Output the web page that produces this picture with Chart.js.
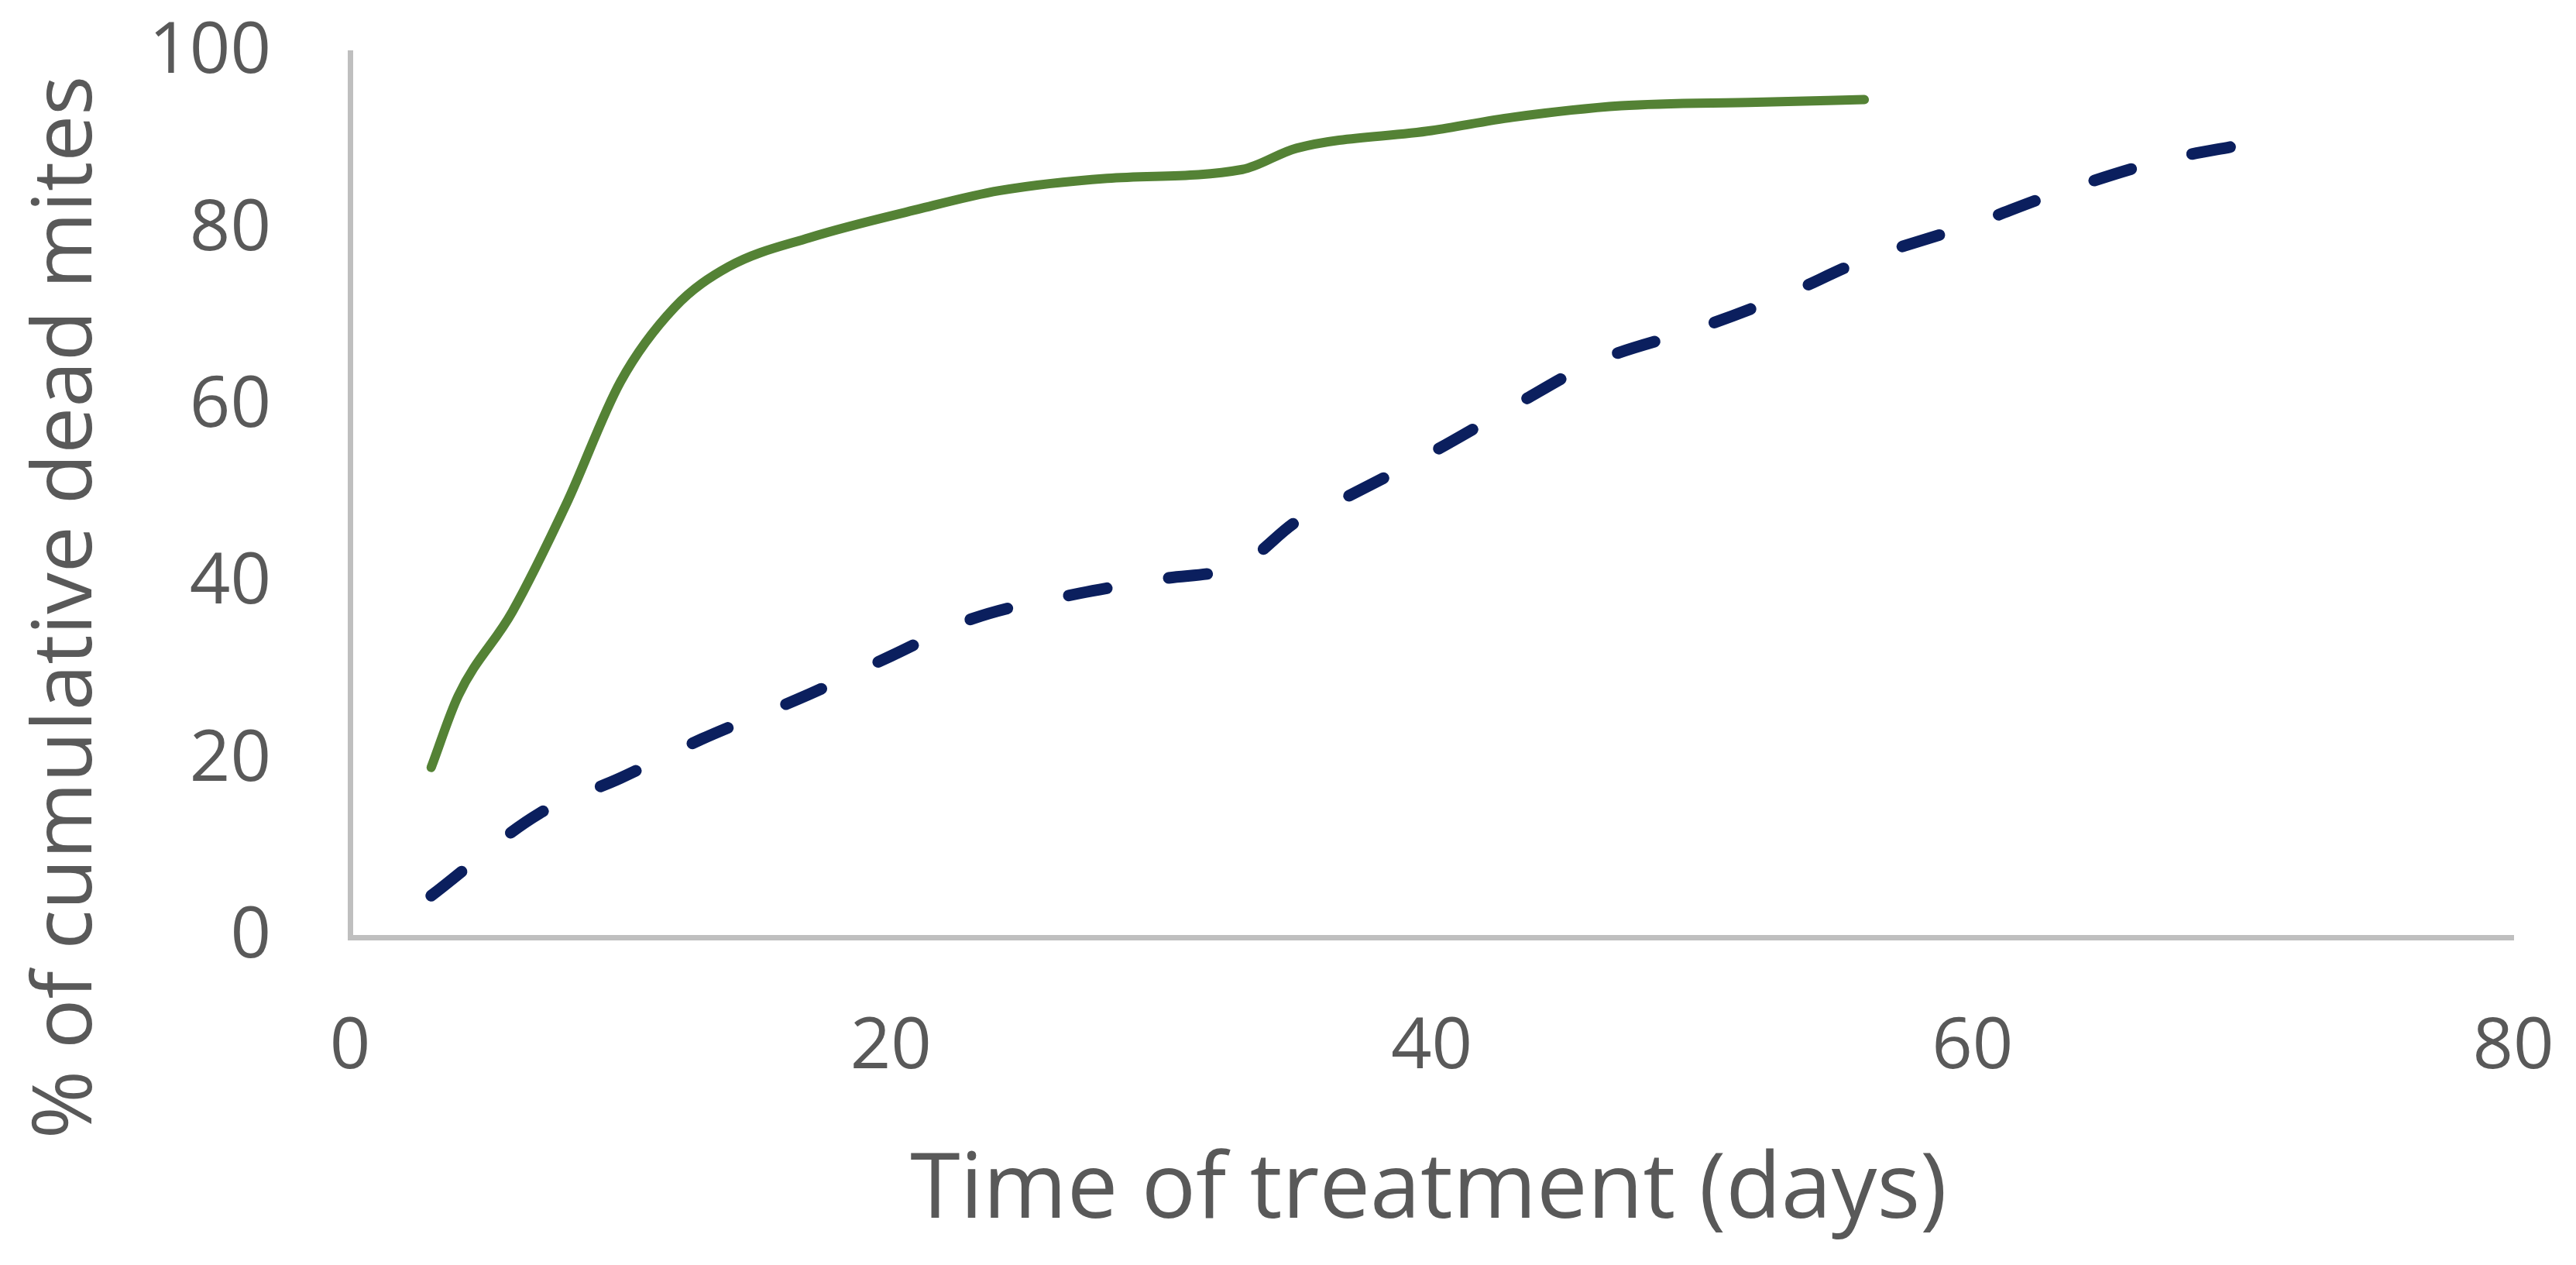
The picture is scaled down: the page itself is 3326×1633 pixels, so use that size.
<!DOCTYPE html>
<html>
<head>
<meta charset="utf-8">
<script src="https://cdn.jsdelivr.net/npm/chart.js@4.4.0/dist/chart.umd.min.js"></script>
<style>
  body { margin: 0; background: #fff; }
  #wrap { width: 3326px; height: 1633px; }
</style>
</head>
<body>
<div id="wrap"><canvas id="mitesChart" width="3326" height="1633"></canvas></div>
<script>
// days of treatment + % cumulative dead mites
const solidDays = [3, 4, 6, 8, 10, 12, 14, 17, 21, 24, 28, 33, 35, 40, 43, 47, 52, 56]
const solidDead = [19.2, 27.3, 36.8, 49, 62.8, 71.2, 75.8, 79.1, 82.3, 84.4, 85.8, 86.8, 89.2, 91.2, 92.7, 94, 94.4, 94.7]

const dashedDays = [3, 7, 10, 13, 17, 20, 23, 27, 30, 33, 35, 37, 40, 43, 46, 50, 53, 56, 60, 63, 67, 70]
const dashedDead = [4.7, 14, 18, 22.4, 27.5, 31.8, 36, 38.9, 40.5, 42.2, 47, 50, 54.8, 60, 65, 69, 72.5, 76.6, 80.6, 84, 87.8, 89.6]

const xTicks = [0, 20, 40, 60, 80]
const yTicks = [0, 20, 40, 60, 80, 100]

const xTitle = 'Time of treatment (days)'
const yTitle = '% of cumulative dead mites'

const textColor = '#595959'
const axisColor = '#BFBFBF'

const toPoints = (xs, ys) => xs.map((x, i) => ({ x: x, y: ys[i] }))

// axis titles are placed by hand, Excel doesn't centre the y one on the plot
const axisTitles = {
  id: 'axisTitles',
  afterDraw(chart) {
    const { ctx, chartArea } = chart
    ctx.save()
    ctx.fillStyle = textColor
    ctx.textAlign = 'center'
    ctx.textBaseline = 'alphabetic'
    ctx.font = '117px "Open Sans"'
    ctx.fillText(xTitle, (chartArea.left + chartArea.right) / 2 - 4, 1572)
    ctx.translate(118, 784)
    ctx.rotate(-Math.PI / 2)
    ctx.font = '107px "Open Sans"'
    ctx.fillText(yTitle, 0, 0)
    ctx.restore()
  }
}

// tick padding would otherwise be added to the plot margins
function noEdgePadding(scale) {
  scale.paddingTop = 0
  scale.paddingBottom = 0
  scale.paddingLeft = 0
  scale.paddingRight = 0
}

const ctx = document.getElementById('mitesChart').getContext('2d')
new Chart(ctx, {
  type: 'line',
  data: {
    datasets: [
      {
        label: 'solid',
        data: toPoints(solidDays, solidDead),
        borderColor: '#548235',
        borderWidth: 12,
        borderCapStyle: 'round',
        cubicInterpolationMode: 'monotone',
        pointRadius: 0,
        fill: false
      },
      {
        label: 'dashed',
        data: toPoints(dashedDays, dashedDead),
        borderColor: '#0B1F5E',
        borderWidth: 15,
        borderCapStyle: 'round',
        borderDash: [50, 81],
        cubicInterpolationMode: 'monotone',
        pointRadius: 0,
        fill: false
      }
    ]
  },
  options: {
    responsive: false,
    devicePixelRatio: 1,
    animation: false,
    layout: {
      padding: { top: 68, right: 81, bottom: 0, left: 0 }
    },
    plugins: {
      legend: { display: false },
      tooltip: { enabled: false }
    },
    scales: {
      x: {
        type: 'linear',
        min: 0,
        max: 80,
        afterBuildTicks: (scale) => {
          scale.ticks = xTicks.map(v => ({ value: v }))
        },
        afterFit: (scale) => {
          scale.height = 423
          noEdgePadding(scale)
        },
        grid: { display: false, drawTicks: false },
        border: { display: true, color: axisColor, width: 7 },
        ticks: {
          padding: 88,
          color: textColor,
          font: { family: 'Open Sans', size: 92 },
          maxRotation: 0
        }
      },
      y: {
        type: 'linear',
        min: 0,
        max: 100,
        afterBuildTicks: (scale) => {
          scale.ticks = yTicks.map(v => ({ value: v }))
        },
        afterFit: (scale) => {
          scale.width = 452
          noEdgePadding(scale)
        },
        grid: { display: false, drawTicks: false },
        border: { display: true, color: axisColor, width: 7 },
        ticks: {
          padding: 102,
          color: textColor,
          font: { family: 'Open Sans', size: 92 }
        }
      }
    }
  },
  plugins: [axisTitles]
})
</script>
</body>
</html>
